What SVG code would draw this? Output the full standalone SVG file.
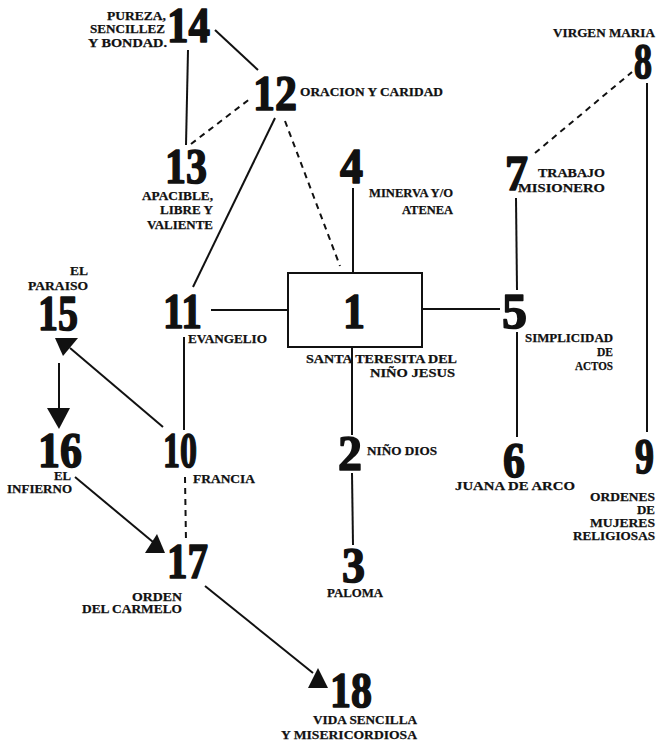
<svg xmlns="http://www.w3.org/2000/svg" width="657" height="741" viewBox="0 0 657 741">
<style>
.num{font-family:"Liberation Serif","Times New Roman",serif;font-weight:bold;font-size:50px;fill:#111;stroke:#111;stroke-width:1.6;stroke-linejoin:round}
.lbl{font-family:"Liberation Serif","Times New Roman",serif;font-weight:bold;font-size:13.5px;fill:#111;stroke:#111;stroke-width:0.25}
.e{text-anchor:end}
.ln{stroke:#111;stroke-width:2;fill:none}
.dl{stroke:#111;stroke-width:2;fill:none;stroke-dasharray:6 5}
.ah{fill:#111;stroke:none}
</style>
<rect width="657" height="741" fill="#fff"/>
<g id="connectors">
<line class="ln" x1="215" y1="30" x2="258" y2="70"/>
<line class="ln" x1="188" y1="50" x2="186" y2="145"/>
<line class="dl" x1="191" y1="144" x2="251" y2="98"/>
<line class="ln" x1="275" y1="118" x2="193" y2="287"/>
<line class="dl" x1="285" y1="121" x2="340" y2="266"/>
<line class="ln" x1="353" y1="188" x2="353" y2="273"/>
<line class="ln" x1="211" y1="310" x2="288" y2="310"/>
<line class="ln" x1="422" y1="309" x2="500" y2="309"/>
<line class="ln" x1="352" y1="347" x2="352" y2="435"/>
<line class="ln" x1="352" y1="473" x2="353" y2="545"/>
<line class="ln" x1="516" y1="198" x2="517" y2="290"/>
<line class="ln" x1="517" y1="332" x2="517" y2="437"/>
<line class="dl" x1="535" y1="153" x2="632" y2="72"/>
<line class="ln" x1="647" y1="83" x2="647" y2="432"/>
<line class="ln" x1="184" y1="337" x2="184" y2="430"/>
<line class="ln" x1="163" y1="427" x2="70" y2="348"/>
<polygon class="ah" points="55,338 78,338 63,356"/>
<line class="ln" x1="59" y1="363" x2="59" y2="408"/>
<polygon class="ah" points="47,408 70,408 59,429"/>
<line class="ln" x1="75" y1="477" x2="153" y2="542"/>
<polygon class="ah" points="145,553 165,553 157,534"/>
<line class="dl" x1="185" y1="477" x2="186" y2="542"/>
<line class="ln" x1="205" y1="586" x2="313" y2="673"/>
<polygon class="ah" points="308,688 328,688 318,668"/>
</g>
<g id="n1">
<rect x="288" y="273" width="134" height="74" fill="none" stroke="#111" stroke-width="2"/>
<text class="num" x="343" y="328" textLength="22" lengthAdjust="spacingAndGlyphs">1</text>
<text class="lbl" x="306" y="363" textLength="151" lengthAdjust="spacingAndGlyphs">SANTA TERESITA DEL</text>
<text class="lbl e" x="455" y="377" textLength="85" lengthAdjust="spacingAndGlyphs">NIÑO JESUS</text>
</g>
<g id="n2">
<text class="num" x="338" y="470" textLength="24" lengthAdjust="spacingAndGlyphs">2</text>
<text class="lbl" x="367" y="455" textLength="70" lengthAdjust="spacingAndGlyphs">NIÑO DIOS</text>
</g>
<g id="n3">
<text class="num" x="342" y="582" textLength="23" lengthAdjust="spacingAndGlyphs">3</text>
<text class="lbl" x="327" y="597" textLength="56" lengthAdjust="spacingAndGlyphs">PALOMA</text>
</g>
<g id="n4">
<text class="num" x="340" y="183" textLength="23" lengthAdjust="spacingAndGlyphs">4</text>
<text class="lbl e" x="453" y="197" textLength="84" lengthAdjust="spacingAndGlyphs">MINERVA Y/O</text>
<text class="lbl e" x="453" y="214" textLength="51" lengthAdjust="spacingAndGlyphs">ATENEA</text>
</g>
<g id="n5">
<text class="num" x="502" y="328" textLength="25" lengthAdjust="spacingAndGlyphs">5</text>
<text class="lbl e" x="613" y="342" textLength="88" lengthAdjust="spacingAndGlyphs">SIMPLICIDAD</text>
<text class="lbl e" x="613" y="356" textLength="16" lengthAdjust="spacingAndGlyphs">DE</text>
<text class="lbl e" x="613" y="370" textLength="38" lengthAdjust="spacingAndGlyphs">ACTOS</text>
</g>
<g id="n6">
<text class="num" x="503" y="477" textLength="22" lengthAdjust="spacingAndGlyphs">6</text>
<text class="lbl" x="455" y="490" textLength="120" lengthAdjust="spacingAndGlyphs">JUANA DE ARCO</text>
</g>
<g id="n7">
<text class="num" x="505" y="190" textLength="23" lengthAdjust="spacingAndGlyphs">7</text>
<text class="lbl e" x="605" y="177" textLength="67" lengthAdjust="spacingAndGlyphs">TRABAJO</text>
<text class="lbl e" x="605" y="192" textLength="87" lengthAdjust="spacingAndGlyphs">MISIONERO</text>
</g>
<g id="n8">
<text class="num" x="634" y="78" textLength="18" lengthAdjust="spacingAndGlyphs">8</text>
<text class="lbl e" x="655" y="37" textLength="102" lengthAdjust="spacingAndGlyphs">VIRGEN MARIA</text>
</g>
<g id="n9">
<text class="num" x="635" y="473" textLength="19" lengthAdjust="spacingAndGlyphs">9</text>
<text class="lbl e" x="655" y="501" textLength="65" lengthAdjust="spacingAndGlyphs">ORDENES</text>
<text class="lbl e" x="655" y="514" textLength="18" lengthAdjust="spacingAndGlyphs">DE</text>
<text class="lbl e" x="655" y="527" textLength="65" lengthAdjust="spacingAndGlyphs">MUJERES</text>
<text class="lbl e" x="655" y="540" textLength="82" lengthAdjust="spacingAndGlyphs">RELIGIOSAS</text>
</g>
<g id="n10">
<text class="num" x="163" y="467" textLength="34" lengthAdjust="spacingAndGlyphs">10</text>
<text class="lbl" x="193" y="483" textLength="62" lengthAdjust="spacingAndGlyphs">FRANCIA</text>
</g>
<g id="n11">
<text class="num" x="163" y="328" textLength="39" lengthAdjust="spacingAndGlyphs">11</text>
<text class="lbl" x="188" y="343" textLength="79" lengthAdjust="spacingAndGlyphs">EVANGELIO</text>
</g>
<g id="n12">
<text class="num" x="253" y="110" textLength="44" lengthAdjust="spacingAndGlyphs">12</text>
<text class="lbl" x="300" y="96" textLength="143" lengthAdjust="spacingAndGlyphs">ORACION Y CARIDAD</text>
</g>
<g id="n13">
<text class="num" x="165" y="183" textLength="42" lengthAdjust="spacingAndGlyphs">13</text>
<text class="lbl e" x="213" y="200" textLength="71" lengthAdjust="spacingAndGlyphs">APACIBLE,</text>
<text class="lbl e" x="213" y="214" textLength="53" lengthAdjust="spacingAndGlyphs">LIBRE Y</text>
<text class="lbl e" x="213" y="229" textLength="66" lengthAdjust="spacingAndGlyphs">VALIENTE</text>
</g>
<g id="n14">
<text class="num" x="167" y="42" textLength="43" lengthAdjust="spacingAndGlyphs">14</text>
<text class="lbl e" x="166" y="20" textLength="59" lengthAdjust="spacingAndGlyphs">PUREZA,</text>
<text class="lbl e" x="165" y="33" textLength="75" lengthAdjust="spacingAndGlyphs">SENCILLEZ</text>
<text class="lbl e" x="167" y="47" textLength="79" lengthAdjust="spacingAndGlyphs">Y BONDAD.</text>
</g>
<g id="n15">
<text class="num" x="38" y="330" textLength="40" lengthAdjust="spacingAndGlyphs">15</text>
<text class="lbl e" x="88" y="275" textLength="18" lengthAdjust="spacingAndGlyphs">EL</text>
<text class="lbl e" x="88" y="290" textLength="60" lengthAdjust="spacingAndGlyphs">PARAISO</text>
</g>
<g id="n16">
<text class="num" x="38" y="467" textLength="44" lengthAdjust="spacingAndGlyphs">16</text>
<text class="lbl e" x="71" y="480" textLength="17" lengthAdjust="spacingAndGlyphs">EL</text>
<text class="lbl e" x="72" y="493" textLength="65" lengthAdjust="spacingAndGlyphs">INFIERNO</text>
</g>
<g id="n17">
<text class="num" x="167" y="578" textLength="41" lengthAdjust="spacingAndGlyphs">17</text>
<text class="lbl e" x="182" y="601" textLength="50" lengthAdjust="spacingAndGlyphs">ORDEN</text>
<text class="lbl e" x="182" y="613" textLength="100" lengthAdjust="spacingAndGlyphs">DEL CARMELO</text>
</g>
<g id="n18">
<text class="num" x="330" y="707" textLength="42" lengthAdjust="spacingAndGlyphs">18</text>
<text class="lbl e" x="417" y="724" textLength="104" lengthAdjust="spacingAndGlyphs">VIDA SENCILLA</text>
<text class="lbl e" x="417" y="739" textLength="136" lengthAdjust="spacingAndGlyphs">Y MISERICORDIOSA</text>
</g>
</svg>
